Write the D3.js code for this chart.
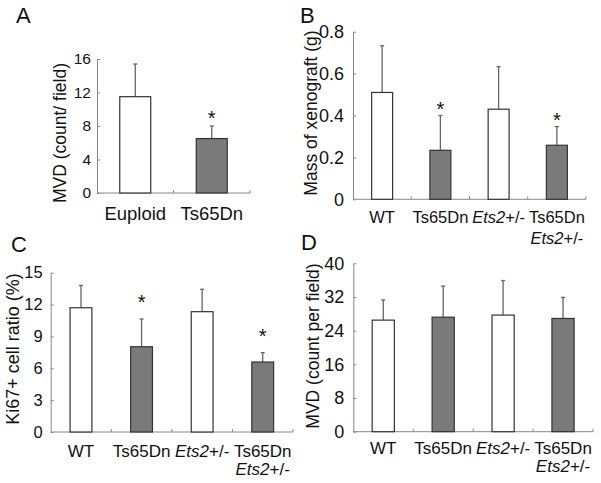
<!DOCTYPE html>
<html>
<head>
<meta charset="utf-8">
<script src="https://cdn.jsdelivr.net/npm/d3@7"></script>
<style>
  body { margin: 0; background: #fff; }
  svg text { font-family: "Liberation Sans", Arial, sans-serif; fill: #111; }
</style>
</head>
<body>
<div id="fig"></div>
<script>
// ---- data ----
var catsA = ["Euploid", "Ts65Dn"];
var mvdA = [11.5, 6.5];
var mvdAErr = [3.9, 1.5];
var sigA = [false, true];

var cats4 = ["WT", "Ts65Dn", "Ets2+/-", "Ts65Dn|Ets2+/-"];
var trisomic = [false, true, false, true];

var massB = [0.51, 0.234, 0.43, 0.258];
var massBErr = [0.223, 0.166, 0.203, 0.089];
var sigB = [false, true, false, true];

var ki67C = [11.7, 8.03, 11.33, 6.59];
var ki67CErr = [2.1, 2.61, 2.11, 0.88];
var sigC = [false, true, false, true];

var mvdD = [26.5, 27.2, 27.7, 26.9];
var mvdDErr = [4.8, 7.4, 8.2, 5.0];
var sigD = [false, false, false, false];

var ticksA = [0, 4, 8, 12, 16];
var ticksB = [0, 0.2, 0.4, 0.6, 0.8];
var ticksC = [0, 3, 6, 9, 12, 15];
var ticksD = [0, 8, 16, 24, 32, 40];

var svg = d3.select("#fig").append("svg")
    .attr("width", 601)
    .attr("height", 483);

function panel(p) {
  var x = d3.scaleBand()
      .domain(p.cats)
      .range([p.x0, p.x1])
      .paddingInner(p.pad).paddingOuter(p.pad / 2);
  var y = d3.scaleLinear()
      .domain([0, p.ymax])
      .range([p.y0, p.y1]);
  var cx = function(i) { return x(p.cats[i]) + x.bandwidth() / 2; };
  var g = svg.append("g");

  // panel letter
  g.append("text")
    .attr("x", p.lx).attr("y", p.ly)
    .style("font-size", "22px")
    .text(p.letter);

  // y axis, ticks pointing inward
  var yAxis = d3.axisLeft(y).tickValues(p.ticks).tickSizeOuter(0).tickSizeInner(-3)
      .tickPadding(p.tpad).tickFormat(function(d) { return d3.format("")(+d.toFixed(2)); });
  var ya = g.append("g")
      .attr("transform", "translate(" + p.x0 + ",0)")
      .call(yAxis);
  ya.select(".domain").attr("stroke", "#888");
  ya.selectAll(".tick line").attr("stroke", "#888");
  ya.selectAll(".tick text")
    .style("font-size", p.tfs + "px")
    .style("font-family", "Liberation Sans, Arial, sans-serif")
    .attr("fill", "#111");

  // x axis line with small inward ticks between categories
  var step = x.step();
  var bounds = d3.range(1, p.cats.length + 1).map(function(i) { return p.x0 + i * step; });
  g.append("line")
    .attr("x1", p.x0).attr("x2", p.x1)
    .attr("y1", p.y0).attr("y2", p.y0)
    .attr("stroke", "#888");
  g.selectAll(".xt").data(bounds).enter().append("line")
    .attr("x1", function(d) { return d; }).attr("x2", function(d) { return d; })
    .attr("y1", p.y0).attr("y2", p.y0 - 3)
    .attr("stroke", "#888");

  var rows = p.vals.map(function(v, i) { return {v: v, e: p.errs[i], i: i}; });

  // error bars (upper only) with a tiny cap
  g.selectAll(".err").data(rows).enter().append("line")
    .attr("x1", function(d) { return cx(d.i); })
    .attr("x2", function(d) { return cx(d.i); })
    .attr("y1", function(d) { return y(d.v); })
    .attr("y2", function(d) { return y(d.v + d.e); })
    .attr("stroke", "#666").attr("stroke-width", 1.3);
  g.selectAll(".cap").data(rows).enter().append("line")
    .attr("x1", function(d) { return cx(d.i) - 2; })
    .attr("x2", function(d) { return cx(d.i) + 2; })
    .attr("y1", function(d) { return y(d.v + d.e); })
    .attr("y2", function(d) { return y(d.v + d.e); })
    .attr("stroke", "#666").attr("stroke-width", 1.3);

  // bars
  g.selectAll(".bar").data(rows).enter().append("rect")
    .attr("x", function(d) { return x(p.cats[d.i]); })
    .attr("width", x.bandwidth())
    .attr("y", function(d) { return y(d.v); })
    .attr("height", function(d) { return y(0) - y(d.v); })
    .attr("fill", function(d) { return p.dark[d.i] ? "#7a7a7a" : "#fff"; })
    .attr("stroke", "#333").attr("stroke-width", 1.2);

  // significance stars
  g.selectAll(".star").data(rows.filter(function(d) { return p.sig[d.i]; }))
    .enter().append("text")
    .attr("x", function(d) { return cx(d.i); })
    .attr("y", function(d) { return y(d.v + d.e) - p.soff; })
    .attr("text-anchor", "middle")
    .style("font-size", "20px")
    .text("*");

  // category labels, "Ets2" in italics, "|" = line break
  p.cats.forEach(function(c, i) {
    c.split("|").forEach(function(line, j) {
      var t = g.append("text")
        .attr("x", cx(i))
        .attr("y", p.xly + j * p.xlh)
        .attr("text-anchor", "middle")
        .style("font-size", p.xfs + "px");
      var m = line.match(/^(Ets2)(.*)$/);
      if (m) {
        t.append("tspan").style("font-style", "italic").text(m[1]);
        t.append("tspan").text(m[2]);
      } else {
        t.text(line);
      }
    });
  });

  // y title
  g.append("text")
    .attr("transform", "translate(" + p.yx + "," + p.yy + ") rotate(-90)")
    .attr("text-anchor", "middle")
    .attr("dy", "0.35em")
    .style("font-size", p.yfs + "px")
    .text(p.ytitle);
}

panel({letter: "A", lx: 16, ly: 23, cats: catsA, vals: mvdA, errs: mvdAErr, sig: sigA,
  dark: [false, true], ticks: ticksA, ymax: 16,
  x0: 97, x1: 250, y0: 193, y1: 59, pad: 0.595, tpad: 6, tfs: 15.5, soff: 1,
  xly: 220, xlh: 18, xfs: 18.5, yx: 60, yy: 133, yfs: 17.5, ytitle: "MVD (count/ field)"});

panel({letter: "B", lx: 300, ly: 23, cats: cats4, vals: massB, errs: massBErr, sig: sigB,
  dark: trisomic, ticks: ticksB, ymax: 0.8,
  x0: 353, x1: 586, y0: 199.3, y1: 31.7, pad: 0.64, tpad: 9, tfs: 18, soff: 0,
  xly: 223, xlh: 21, xfs: 16.5, yx: 311, yy: 113, yfs: 17.5, ytitle: "Mass of xenograft (g)"});

panel({letter: "C", lx: 11, ly: 252, cats: cats4, vals: ki67C, errs: ki67CErr, sig: sigC,
  dark: trisomic, ticks: ticksC, ymax: 15,
  x0: 50.7, x1: 293, y0: 432, y1: 272.7, pad: 0.64, tpad: 8, tfs: 16.5, soff: 10,
  xly: 457, xlh: 18, xfs: 17, yx: 13, yy: 349, yfs: 18, ytitle: "Ki67+ cell ratio (%)"});

panel({letter: "D", lx: 301, ly: 250, cats: cats4, vals: mvdD, errs: mvdDErr, sig: sigD,
  dark: trisomic, ticks: ticksD, ymax: 40,
  x0: 353.3, x1: 593, y0: 431.7, y1: 263.3, pad: 0.63, tpad: 9, tfs: 18, soff: 2,
  xly: 454, xlh: 18, xfs: 17, yx: 313, yy: 346, yfs: 17.5, ytitle: "MVD (count per field)"});
</script>
</body>
</html>
